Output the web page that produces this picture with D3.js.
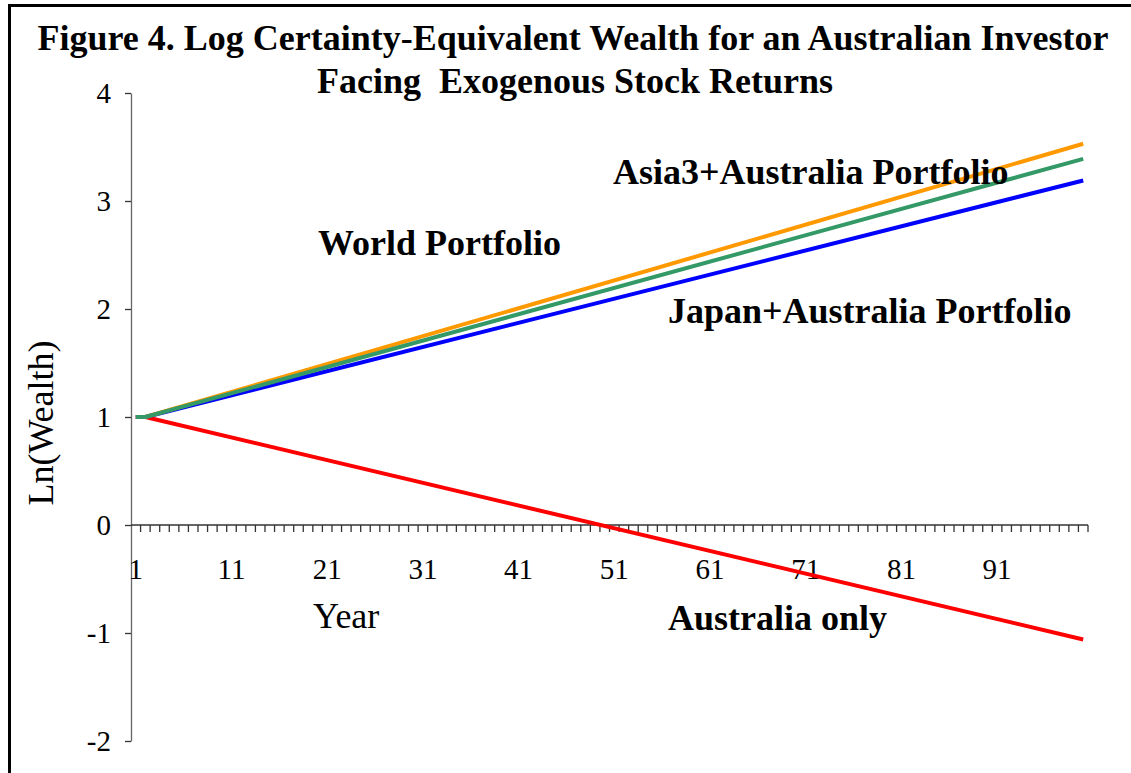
<!DOCTYPE html>
<html>
<head>
<meta charset="UTF-8">
<title>Figure 4</title>
<script src="https://d3js.org/d3.v7.min.js"></script>
<style>
    body { margin: 0; background: #fff; }
    svg { display: block; font-family: "Liberation Serif", "Times New Roman", serif; }
</style>
</head>
<body>
<svg width="1131" height="773"></svg>
<script>
    // data: straight lines, flat for the first year
    const years = [1, 2, 100];
    const world = [1, 1, 3.53];
    const asia3 = [1, 1, 3.39];
    const japan = [1, 1, 3.19];
    const australia = [1, 1, -1.06];
    const xTickLabels = [1, 11, 21, 31, 41, 51, 61, 71, 81, 91];
    const yTicks = [-2, -1, 0, 1, 2, 3, 4];

    const series = [
        { name: "Australia only", values: australia, color: "#ff0000" },
        { name: "Japan+Australia Portfolio", values: japan, color: "#0000ff" },
        { name: "World Portfolio", values: world, color: "#ff9900" },
        { name: "Asia3+Australia Portfolio", values: asia3, color: "#339966" }
    ];

    const svg = d3.select("svg");

    // frame (cut off at the right and bottom)
    svg.append("path")
        .attr("d", "M9.5,773 L9.5,5.5 L1131,5.5")
        .attr("fill", "none")
        .attr("stroke", "#000")
        .attr("stroke-width", 3);

    const categories = d3.range(1, 101);
    const x = d3.scaleBand().domain(categories).range([131, 1088]).paddingInner(0).paddingOuter(0);
    const y = d3.scaleLinear().domain([-2, 4]).range([741, 93]);

    // y axis
    const yAxis = svg.append("g")
        .attr("transform", "translate(131,0)")
        .call(d3.axisLeft(y).tickValues(yTicks).tickSize(6).tickSizeOuter(0).tickPadding(14)
            .tickFormat(d => String(d)));
    yAxis.select(".domain").attr("stroke", "#666").attr("stroke-width", 1.3);
    yAxis.selectAll(".tick line").attr("stroke", "#333").attr("stroke-width", 1.3);
    yAxis.selectAll("text").attr("font-size", 29).attr("font-family", "Liberation Serif").attr("fill", "#000");

    // x axis at y = 0, ticks between categories
    const xg = svg.append("g").attr("transform", `translate(0,${y(0)})`);
    xg.append("line")
        .attr("x1", 131).attr("x2", 1088)
        .attr("stroke", "#333").attr("stroke-width", 1.3);
    xg.selectAll(".xt")
        .data(categories)
        .enter().append("line")
        .attr("class", "xt")
        .attr("x1", d => x(d) + x.bandwidth())
        .attr("x2", d => x(d) + x.bandwidth())
        .attr("y1", 0).attr("y2", 7)
        .attr("stroke", "#333").attr("stroke-width", 1.3);
    xg.selectAll(".xl")
        .data(xTickLabels)
        .enter().append("text")
        .attr("class", "xl")
        .attr("x", d => x(d) + x.bandwidth() / 2)
        .attr("y", 54)
        .attr("text-anchor", "middle")
        .attr("font-size", 29)
        .text(d => d);

    // lines
    const line = d3.line()
        .x((d, i) => x(years[i]) + x.bandwidth() / 2)
        .y(d => y(d));

    svg.selectAll(".series")
        .data(series)
        .enter().append("path")
        .attr("class", "series")
        .attr("d", d => line(d.values))
        .attr("fill", "none")
        .attr("stroke", d => d.color)
        .attr("stroke-width", 4)
        .attr("stroke-linejoin", "round");

    // title
    svg.append("text")
        .attr("x", 573).attr("y", 50)
        .attr("text-anchor", "middle")
        .attr("font-size", 36).attr("font-weight", "bold")
        .text("Figure 4. Log Certainty-Equivalent Wealth for an Australian Investor");
    svg.append("text")
        .attr("x", 575).attr("y", 93)
        .attr("text-anchor", "middle")
        .attr("font-size", 36).attr("font-weight", "bold")
        .style("white-space", "pre")
        .text("Facing  Exogenous Stock Returns");

    // series labels
    const labels = [
        { text: "Asia3+Australia Portfolio", x: 613, y: 184 },
        { text: "World Portfolio", x: 318, y: 255 },
        { text: "Japan+Australia Portfolio", x: 668, y: 323 },
        { text: "Australia only", x: 668, y: 630 }
    ];
    svg.selectAll(".lbl")
        .data(labels)
        .enter().append("text")
        .attr("class", "lbl")
        .attr("x", d => d.x).attr("y", d => d.y)
        .attr("font-size", 36).attr("font-weight", "bold")
        .text(d => d.text);

    // axis titles
    svg.append("text")
        .attr("x", 313).attr("y", 628)
        .attr("font-size", 36)
        .text("Year");
    svg.append("text")
        .attr("transform", "translate(53,423) rotate(-90)")
        .attr("text-anchor", "middle")
        .attr("font-size", 36)
        .text("Ln(Wealth)");
</script>
</body>
</html>
